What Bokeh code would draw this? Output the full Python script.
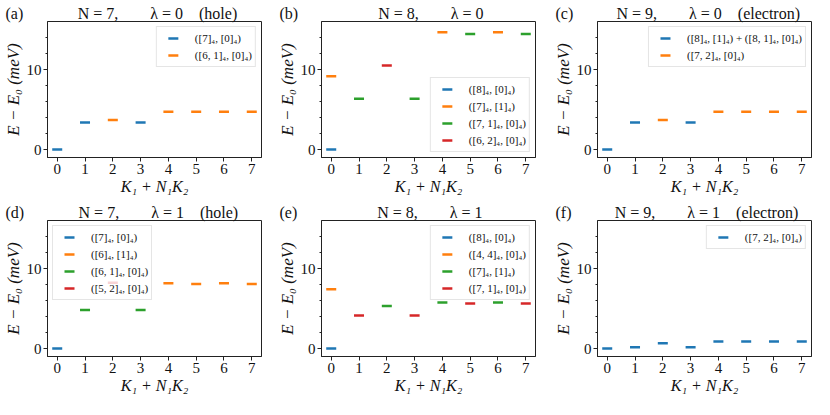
from bokeh.plotting import figure
from bokeh.layouts import gridplot
from bokeh.models import Range1d, FixedTicker, Legend, LegendItem, Title
from bokeh.embed import file_html
from bokeh.resources import INLINE

# ---------------- data ----------------
ticks_k = [0, 1, 2, 3, 4, 5, 6, 7]
ticks_E = [0, 10]
minor_E = [2, 4, 6, 8, 12, 14]
colors = ["#1f77b4", "#ff7f0e", "#2ca02c", "#d62728"]

# (a) N=7, lambda=0 (hole)
a_k = [0, 1, 2, 3, 4, 5, 6, 7]
a_E = [0.0, 3.36, 3.69, 3.36, 4.71, 4.71, 4.71, 4.71]
a_s = [0, 0, 1, 0, 1, 1, 1, 1]
a_labels = ["([7]₄, [0]₄)", "([6, 1]₄, [0]₄)"]

# (b) N=8, lambda=0
b_k = [0, 0, 1, 2, 3, 4, 5, 6, 7]
b_E = [0.0, 9.15, 6.34, 10.49, 6.34, 14.67, 14.43, 14.67, 14.43]
b_s = [0, 1, 2, 3, 2, 1, 2, 1, 2]
b_labels = ["([8]₄, [0]₄)", "([7]₄, [1]₄)", "([7, 1]₄, [0]₄)", "([6, 2]₄, [0]₄)"]

# (c) N=9, lambda=0 (electron)
c_k = [0, 1, 2, 3, 4, 5, 6, 7]
c_E = [0.0, 3.36, 3.69, 3.36, 4.71, 4.71, 4.71, 4.71]
c_s = [0, 0, 1, 0, 1, 1, 1, 1]
c_labels = ["([8]₄, [1]₄) + ([8, 1]₄, [0]₄)", "([7, 2]₄, [0]₄)"]

# (d) N=7, lambda=1 (hole)
d_k = [0, 1, 2, 3, 4, 5, 6, 7]
d_E = [0.0, 4.81, 8.23, 4.81, 8.15, 8.07, 8.15, 8.07]
d_s = [0, 2, 3, 2, 1, 1, 1, 1]
d_labels = ["([7]₄, [0]₄)", "([6]₄, [1]₄)", "([6, 1]₄, [0]₄)", "([5, 2]₄, [0]₄)"]

# (e) N=8, lambda=1
e_k = [0, 0, 1, 2, 3, 4, 5, 6, 7]
e_E = [0.0, 7.41, 4.13, 5.30, 4.13, 5.75, 5.63, 5.75, 5.63]
e_s = [0, 1, 3, 2, 3, 2, 3, 2, 3]
e_labels = ["([8]₄, [0]₄)", "([4, 4]₄, [0]₄)", "([7]₄, [1]₄)", "([7, 1]₄, [0]₄)"]

# (f) N=9, lambda=1 (electron)
f_k = [0, 1, 2, 3, 4, 5, 6, 7]
f_E = [0.0, 0.16, 0.66, 0.16, 0.86, 0.86, 0.86, 0.86]
f_s = [0, 0, 0, 0, 0, 0, 0, 0]
f_labels = ["([7, 2]₄, [0]₄)"]

titles = ["N = 7,\u2003\u2003λ = 0\u2003(hole)", "N = 8,\u2003\u2003λ = 0",
          "N = 9,\u2003\u2003λ = 0\u2003(electron)", "N = 7,\u2003\u2003λ = 1\u2003(hole)",
          "N = 8,\u2003\u2003λ = 1", "N = 9,\u2003\u2003λ = 1\u2003(electron)"]
tags = ["(a)", "(b)", "(c)", "(d)", "(e)", "(f)"]

FONT = "Liberation Serif"
XR = (-0.35, 7.35)
YR = (-1, 16)
TSIZE = 16
LEFT = 42
FRAME_W = 219
FRAME_H = 136

# approximate Times-like advance widths (em) used only to centre the title text
ADV = {"(": .333, ")": .333, "a": .444, "b": .5, "c": .444, "d": .5, "e": .444,
       "f": .333, "N": .722, " ": .25, "=": .564, ",": .25, "λ": .5, "h": .5,
       "o": .5, "l": .278, "t": .278, "r": .333, "n": .5, "\u2003": 1.0,
       "\u2002": .5}


def tw(t):
    return sum(ADV.get(ch, .5) for ch in t) * TSIZE


def header(tag, title):
    gap = LEFT + FRAME_W / 2 - tw(title) / 2 - tw(tag)
    n_em = int(gap // TSIZE)
    rem = gap - n_em * TSIZE
    sp = "\u2003" * n_em
    if rem >= TSIZE / 2:
        sp += "\u2002"
        rem -= TSIZE / 2
    sp += "\u2009" * int(round(rem / (0.2 * TSIZE)))
    return tag + sp + title


def panel(k, E, s, labels, title, tag, loc, col, row):
    right = [13, 15, 2][col]
    top, bottom = 21, 42
    w = LEFT + FRAME_W + right
    h = top + FRAME_H + bottom
    p = figure(width=w, height=h, output_backend="svg", toolbar_location=None,
               x_range=Range1d(*XR), y_range=Range1d(*YR),
               min_border_left=LEFT, min_border_right=right,
               min_border_top=top, min_border_bottom=bottom)
    p.xgrid.visible = False
    p.ygrid.visible = False
    p.outline_line_color = "#222222"
    p.outline_line_width = 1
    p.background_fill_color = "white"
    p.border_fill_color = "white"

    for ax in (p.xaxis[0], p.yaxis[0]):
        ax.axis_line_color = "#222222"
        ax.major_tick_line_color = "#222222"
        ax.minor_tick_line_color = "#222222"
        ax.major_tick_out = 4
        ax.major_tick_in = 0
        ax.minor_tick_out = 2
        ax.minor_tick_in = 0
        ax.major_label_text_font = FONT
        ax.major_label_text_font_size = "15px"
        ax.major_label_text_color = "#111111"
        ax.axis_label_text_font = FONT
        ax.axis_label_text_font_style = "italic"
        ax.axis_label_text_color = "#111111"
    p.xaxis.axis_label_text_font_size = "16px"
    p.yaxis.axis_label_text_font_size = "17px"
    p.xaxis.ticker = FixedTicker(ticks=ticks_k)
    p.yaxis.ticker = FixedTicker(ticks=ticks_E, minor_ticks=minor_E)
    p.xaxis.major_label_standoff = 2
    p.xaxis.axis_label_standoff = 1
    p.yaxis.major_label_standoff = 2
    p.yaxis.axis_label_standoff = 1
    p.xaxis.axis_label = "K₁ + N₁K₂"
    p.yaxis.axis_label = "E − E₀ (meV)"

    items = []
    for i, lab in enumerate(labels):
        xs = [kk for kk, ss in zip(k, s) if ss == i]
        ys = [ee for ee, ss in zip(E, s) if ss == i]
        p.scatter(xs, ys, marker="dash", size=10, line_width=2.5,
                  line_color=colors[i], fill_color=colors[i])
        # legend-only sample (not drawn in the frame: NaN point)
        leg = p.line([float("nan")], [float("nan")], line_color=colors[i],
                     line_width=2.5, line_dash="0 8 10 8")
        items.append(LegendItem(label=lab, renderers=[leg]))

    legend = Legend(items=items, location=loc,
                    label_text_font=FONT, label_text_font_size="11px",
                    label_text_color="#111111",
                    glyph_width=26, glyph_height=16, label_height=16,
                    label_standoff=9, spacing=1, padding=3, margin=5,
                    border_line_color="#cccccc", border_line_width=1,
                    background_fill_color="white", background_fill_alpha=0.8)
    p.add_layout(legend)

    p.add_layout(Title(text=header(tag, title), align="left", offset=-LEFT,
                       standoff=0, text_font=FONT,
                       text_font_size=f"{TSIZE}px", text_font_style="normal",
                       text_color="#111111"), "above")
    return p


pa = panel(a_k, a_E, a_s, a_labels, titles[0], tags[0], "top_right", 0, 0)
pb = panel(b_k, b_E, b_s, b_labels, titles[1], tags[1], "bottom_right", 1, 0)
pc = panel(c_k, c_E, c_s, c_labels, titles[2], tags[2], "top_right", 2, 0)
pd = panel(d_k, d_E, d_s, d_labels, titles[3], tags[3], "top_left", 0, 1)
pe = panel(e_k, e_E, e_s, e_labels, titles[4], tags[4], "top_right", 1, 1)
pf = panel(f_k, f_E, f_s, f_labels, titles[5], tags[5], "top_right", 2, 1)

grid = gridplot([[pa, pb, pc], [pd, pe, pf]], toolbar_location=None)

open("out.html", "w").write(file_html(grid, INLINE))
